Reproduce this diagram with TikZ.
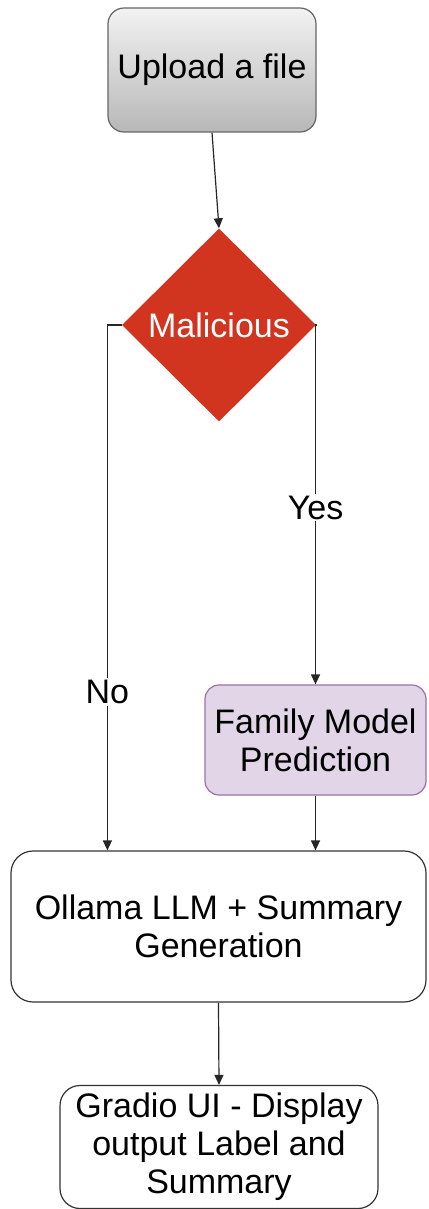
\documentclass[tikz,border=0pt]{standalone}
\usepackage{fontspec}
\setmainfont{Liberation Sans}
\usetikzlibrary{shapes.geometric,arrows.meta,calc}
\definecolor{malred}{HTML}{D13520}
\definecolor{famfill}{HTML}{E1D5E7}
\definecolor{famdraw}{HTML}{9673A6}
\definecolor{boxdraw}{HTML}{333333}
\begin{document}
\begin{tikzpicture}[x=1pt,y=-1pt,
  every node/.style={font=\fontsize{34}{38}\selectfont, align=center, inner sep=0pt},
  box/.style={draw=boxdraw, line width=1.2pt, rounded corners=18pt, fill=white},
  arr/.style={draw=black!85, line width=1.2pt, -{Triangle[length=10pt,width=9pt]}},
  lbl/.style={fill=white, inner sep=2pt}
]
\useasboundingbox (0,0) rectangle (428,1209);
\node[draw=black!60, line width=1.2pt, rounded corners=16pt, top color=black!5, bottom color=black!28,
      minimum width=208pt, minimum height=124pt] (up) at (212,70) {Upload a file};
\node[diamond, fill=malred, minimum width=194pt, minimum height=193pt, text=white] (mal) at (219,325) {Malicious};
\node[draw=famdraw, fill=famfill, line width=1.2pt, rounded corners=14pt,
      minimum width=221pt, minimum height=110pt] (fam) at (315.5,740) {Family Model\\Prediction};
\node[box, rounded corners=22pt, minimum width=415pt, minimum height=151pt] (oll) at (218.5,926.5) {Ollama LLM + Summary\\Generation};
\node[box, rounded corners=20pt, minimum width=318pt, minimum height=123pt] (gra) at (219,1147) {Gradio UI - Display\\output Label and\\Summary};
\draw[arr] (up.south) -- (mal.north);
\draw[arr] (mal.west) -| node[lbl, pos=0.849] {No} ([xshift=97pt]oll.north west);
\draw[arr] (mal.east) -| node[lbl, pos=0.754] {Yes} (fam.north);
\draw[arr] (fam.south) -- (fam.south |- oll.north);
\draw[arr] (oll.south) -- (gra.north);
\end{tikzpicture}
\end{document}
